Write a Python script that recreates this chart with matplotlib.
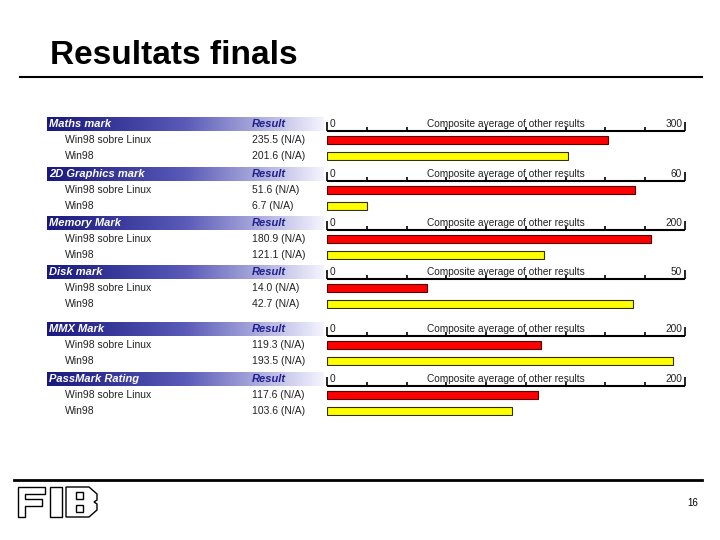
import numpy as np
import matplotlib.pyplot as plt
from matplotlib.patches import Polygon, Rectangle
from matplotlib.colors import LinearSegmentedColormap

# Dades de la transparencia (resultats PassMark)
groups = ["Maths mark", "2D Graphics mark", "Memory Mark", "Disk mark", "MMX Mark", "PassMark Rating"]
scale_max = [300, 60, 200, 50, 200, 200]
row_labels = ["Win98 sobre Linux", "Win98"]
linux_values = [235.5, 51.6, 180.9, 14.0, 119.3, 117.6]
win98_values = [201.6, 6.7, 121.1, 42.7, 193.5, 103.6]
scale_title = "Composite average of other results"

# Layout (pixels, y cap avall)
header_y = [124, 174, 223, 272, 329, 379]
row_step = 16
bar_left, bar_right = 327, 685

plt.rcParams['font.family'] = ['Liberation Sans', 'DejaVu Sans']

fig = plt.figure(figsize=(7.2, 5.4), dpi=100)
bg = fig.add_axes([0, 0, 1, 1])
bg.axis('off')

# Titol i linies de la plantilla
bg.text(50, 64, "Resultats finals", fontsize=24, fontweight='bold', va='baseline')
bg.plot([20, 702], [77, 77], color='black', lw=1.5)
bg.plot([14, 702], [480, 480], color='black', lw=2)
bg.text(698, 503, "16", fontsize=7, ha='right', va='center')

# Logo FIB (lletres de contorn)
logo_kw = dict(fill=False, edgecolor='black', lw=1)
bg.add_patch(Polygon([(18, 487), (45, 487), (45, 494), (25, 494), (25, 499), (42, 499),
                      (42, 506), (25, 506), (25, 517), (18, 517)], **logo_kw))
bg.add_patch(Rectangle((50, 487), 12, 30, **logo_kw))
bg.add_patch(Polygon([(66, 487), (89, 487), (97, 494), (97, 500), (94, 502), (97, 504),
                      (97, 510), (89, 517), (66, 517)], **logo_kw))
bg.add_patch(Rectangle((76, 492), 7, 7, **logo_kw))
bg.add_patch(Rectangle((76, 505), 7, 7, **logo_kw))

grad_cmap = LinearSegmentedColormap.from_list("hdr", ["#18187e", "#5a5ab8", "#f4f4ff"])
grad = np.linspace(0, 1, 256).reshape(1, -1)

for i, name in enumerate(groups):
    yc = header_y[i]
    # capcalera amb degradat
    bg.imshow(grad, extent=[47, 324, yc + 7, yc - 7], cmap=grad_cmap, aspect='auto', zorder=1)
    bg.text(49, yc, name, color='white', fontsize=8, fontweight='bold', style='italic',
            va='center', zorder=2)
    bg.text(252, yc, "Result", color='#20208c', fontsize=8, fontweight='bold', style='italic',
            va='center', zorder=2)
    vals = [linux_values[i], win98_values[i]]
    for j, lab in enumerate(row_labels):
        ry = yc + row_step * (j + 1)
        bg.text(65, ry, lab, fontsize=7.5, color='#222222', va='center')
        bg.text(252, ry, f"{vals[j]:.1f} (N/A)", fontsize=7.5, color='#222222', va='center')

    # barres en eix propi
    top = yc - 7
    bottom = yc + 2 * row_step + 5
    ax = fig.add_axes([bar_left / 720, 1 - bottom / 540,
                       (bar_right - bar_left) / 720, (bottom - top) / 540])
    m = scale_max[i]
    ax.set_xlim(0, m)
    ax.set_ylim((bottom - yc) / row_step, (top - yc) / row_step)
    ax.axis('off')

    base = 7 / row_step
    ax.hlines(base, 0, m, color='black', lw=1.5)
    ticks = np.linspace(0, m, 10)
    ax.vlines(ticks[1:-1], base - 0.22, base, color='black', lw=1.2)
    ax.vlines([0, m], base - 0.56, base, color='black', lw=1.2, clip_on=False)
    ax.annotate("0", xy=(0, 0), xytext=(2, 0), textcoords='offset points',
                fontsize=7.3, va='center', ha='left', color='#222222')
    ax.annotate(str(m), xy=(m, 0), xytext=(-2, 0), textcoords='offset points',
                fontsize=7.3, va='center', ha='right', color='#222222')
    ax.text(m / 2, 0, scale_title, fontsize=7.3, ha='center', va='center', color='#222222')

    ax.barh([1, 2], vals, height=0.53, left=0, color=['#ff0000', '#ffff00'],
            edgecolor=['#5a0000', '#303000'], linewidth=0.8)

bg.set_xlim(0, 720)
bg.set_ylim(540, 0)

fig.savefig("out.png", dpi=100)
